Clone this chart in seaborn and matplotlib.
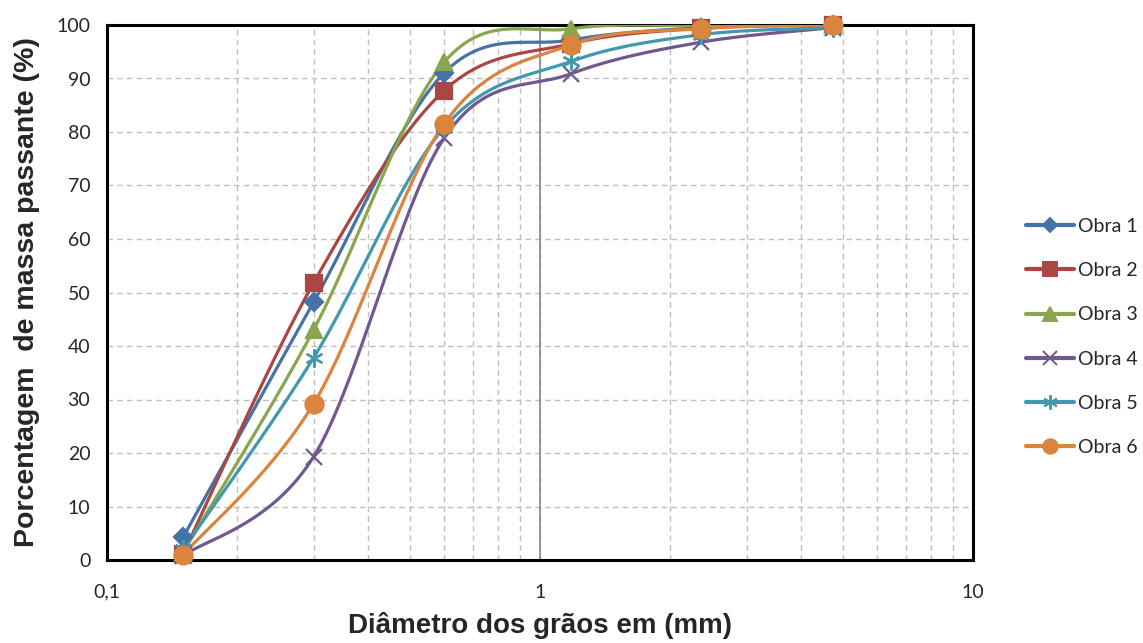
import numpy as np
import pandas as pd
import matplotlib
matplotlib.use("Agg")
import matplotlib.pyplot as plt
from matplotlib.lines import Line2D
from matplotlib.ticker import FixedLocator, FuncFormatter, NullFormatter, LogLocator
import seaborn as sns

# sieve openings (mm) and percent passing per site
diametro = [0.15, 0.3, 0.6, 1.18, 2.36, 4.75]
obra_1 = [4.3, 48.2, 91.0, 97.2, 99.5, 100.0]
obra_2 = [1.2, 51.8, 87.7, 96.5, 99.4, 100.0]
obra_3 = [1.5, 43.0, 93.0, 99.3, 99.9, 100.0]
obra_4 = [0.8, 19.3, 78.8, 90.9, 96.8, 99.5]
obra_5 = [2.0, 37.8, 80.8, 93.2, 98.2, 99.5]
obra_6 = [1.0, 29.2, 81.5, 96.3, 99.3, 100.0]

nomes = ["Obra 1", "Obra 2", "Obra 3", "Obra 4", "Obra 5", "Obra 6"]
series = [obra_1, obra_2, obra_3, obra_4, obra_5, obra_6]
cores = ["#4572A7", "#AA4643", "#89A54E", "#71588F", "#4198AF", "#DB843D"]
marcadores = ["D", "s", "^", "x", (6, 2, 0), "o"]
tamanhos = [9, 12, 12, 12, 13, 13]


def smooth_curve(xs, ys, n=40):
    # Excel-style smoothed line: cubic Bezier with Catmull-Rom control points,
    # computed in (log10 x, y) space because the x axis is logarithmic
    u = np.log10(xs)
    p = np.column_stack([u, ys])
    pts = []
    for i in range(len(p) - 1):
        p0 = p[i - 1] if i > 0 else p[i]
        p1, p2 = p[i], p[i + 1]
        p3 = p[i + 2] if i + 2 < len(p) else p[i + 1]
        c1 = p1 + (p2 - p0) / 6
        c2 = p2 - (p3 - p1) / 6
        t = np.linspace(0, 1, n)[:, None]
        seg = ((1 - t) ** 3) * p1 + 3 * ((1 - t) ** 2) * t * c1 + 3 * (1 - t) * t ** 2 * c2 + t ** 3 * p2
        pts.append(seg if i == 0 else seg[1:])
    pts = np.vstack(pts)
    return 10 ** pts[:, 0], pts[:, 1]


frames = []
for nome, ys in zip(nomes, series):
    sx, sy = smooth_curve(np.array(diametro), np.array(ys))
    frames.append(pd.DataFrame({"d": sx, "p": sy, "obra": nome, "ordem": np.arange(len(sx))}))
curvas = pd.concat(frames, ignore_index=True)

sns.set_style("white")
plt.rcParams["font.family"] = ["Lato", "DejaVu Sans"]

fig = plt.figure(figsize=(11.43, 6.43), dpi=100)
ax = fig.add_axes([107 / 1143, 83 / 643, 866 / 1143, 535 / 643])

sns.lineplot(data=curvas, x="d", y="p", hue="obra", units="obra", estimator=None,
             sort=False, palette=cores, linewidth=2.3, legend=False, ax=ax, zorder=3)

for ys, c, m, ms in zip(series, cores, marcadores, tamanhos):
    ax.plot(diametro, ys, linestyle="none", marker=m, markersize=ms, color=c,
            markeredgecolor=c, markeredgewidth=1.6, zorder=4, clip_on=False)

ax.set_xscale("log")
ax.set_xlim(0.1, 10)
ax.set_ylim(0, 100)

ax.xaxis.set_major_locator(FixedLocator([0.1, 1, 10]))
ax.xaxis.set_major_formatter(FuncFormatter(lambda v, _: {0.1: "0,1", 1: "1", 10: "10"}.get(round(v, 3), "")))
ax.xaxis.set_minor_locator(LogLocator(base=10, subs=np.arange(2, 10)))
ax.xaxis.set_minor_formatter(NullFormatter())
ax.set_yticks(np.arange(0, 101, 10))

grid_kw = dict(color="#BFBFBF", linestyle=(0, (4, 3)), linewidth=1.0)
ax.grid(True, which="major", axis="y", **grid_kw)
ax.grid(True, which="both", axis="x", **grid_kw)
ax.set_axisbelow(True)
ax.axvline(1, color="#868686", linewidth=1.2, zorder=1)

for s in ax.spines.values():
    s.set_visible(True)
    s.set_color("black")
    s.set_linewidth(2.2)

ax.tick_params(axis="x", which="major", length=5, color="#868686", width=1, labelsize=14, pad=12)
ax.tick_params(axis="x", which="minor", length=0)
ax.tick_params(axis="y", length=0, labelsize=14, pad=12)
for lbl in ax.get_xticklabels() + ax.get_yticklabels():
    lbl.set_color("#262626")

ax.set_xlabel("Diâmetro dos grãos em (mm)", fontsize=20, fontweight="bold",
              family=["Liberation Sans", "DejaVu Sans"], labelpad=8)
ax.set_ylabel("Porcentagem  de massa passante (%)", fontsize=20.5, fontweight="bold",
              family=["Liberation Sans", "DejaVu Sans"], labelpad=12)

handles = [Line2D([0], [0], color=c, linewidth=3, marker=m, markersize=ms * 0.8,
                  markeredgecolor=c, markeredgewidth=1.4)
           for c, m, ms in zip(cores, marcadores, tamanhos)]
fig.legend(handles, nomes, loc="center left", bbox_to_anchor=(1008 / 1143, 306 / 643),
           frameon=False, fontsize=14, handlelength=2.5, handletextpad=0.2,
           labelspacing=1.4, labelcolor="#262626")

fig.savefig("out.png", dpi=100)
